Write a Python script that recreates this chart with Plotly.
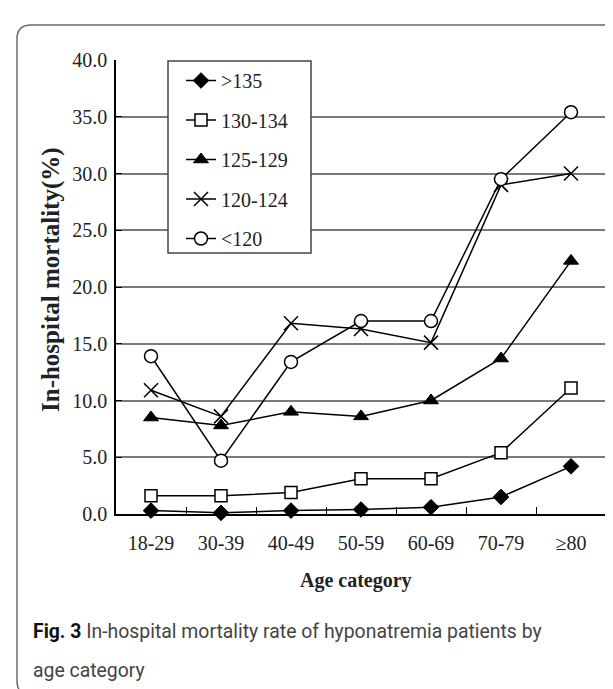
import plotly.graph_objects as go

categories = ["18-29", "30-39", "40-49", "50-59", "60-69", "70-79", "\u226580"]
series_names = [">135", "130-134", "125-129", "120-124", "<120"]
s_gt135 = [0.3, 0.1, 0.3, 0.4, 0.6, 1.5, 4.2]
s_130_134 = [1.6, 1.6, 1.9, 3.1, 3.1, 5.4, 11.1]
s_125_129 = [8.5, 7.8, 9.0, 8.6, 10.0, 13.7, 22.3]
s_120_124 = [10.9, 8.6, 16.8, 16.3, 15.1, 29.0, 30.0]
s_lt120 = [13.9, 4.7, 13.4, 17.0, 17.0, 29.5, 35.4]
y_ticks = [0, 5, 10, 15, 20, 25, 30, 35, 40]
y_ticklabels = ["%.1f" % v for v in y_ticks]

W, H = 613, 689
L, R, T, B = 108, 598, 52, 506

def px(x):
    return (x - L) / (R - L)

def py(y):
    return (B - y) / (B - T)

serif = "Liberation Serif, Times New Roman, serif"

styles = [
    dict(symbol="diamond", size=12, color="black", line=dict(color="black", width=1)),
    dict(symbol="square", size=12, color="white", line=dict(color="black", width=1.5)),
    dict(symbol="triangle-up", size=13, color="black", line=dict(color="black", width=1)),
    dict(symbol="x-thin", size=14, color="black", line=dict(color="black", width=1.5)),
    dict(symbol="circle", size=13, color="white", line=dict(color="black", width=1.5)),
]
data = [s_gt135, s_130_134, s_125_129, s_120_124, s_lt120]

fig = go.Figure()
for i, (name, vals, st) in enumerate(zip(series_names, data, styles)):
    fig.add_trace(go.Scatter(
        x=categories, y=vals, name=name, mode="lines+markers",
        line=dict(color="black", width=1.5),
        marker=st, legendgroup="g%d" % i, cliponaxis=False,
    ))

# rounded frame
r = 14
x0, y0, x1, y1 = 9, 17, 640, 687
path = (f"M {px(x0+r)},{py(y0)} L {px(x1)},{py(y0)} "
        f"M {px(x0+r)},{py(y0)} Q {px(x0)},{py(y0)} {px(x0)},{py(y0+r)} "
        f"L {px(x0)},{py(y1-r)} Q {px(x0)},{py(y1)} {px(x0+r)},{py(y1)} L {px(x1)},{py(y1)}")
fig.add_shape(type="path", path=path, xref="paper", yref="paper",
              line=dict(color="#6a6a6a", width=1.5))

# legend box
fig.add_shape(type="rect", xref="paper", yref="paper",
              x0=px(160), x1=px(303), y0=py(245), y1=py(53),
              line=dict(color="#444", width=1.5), fillcolor="white", layer="above")

fig.add_annotation(text="<b>In-hospital mortality(%)</b>", textangle=-90,
                   x=px(43), y=py(272), xref="paper", yref="paper",
                   xanchor="center", yanchor="middle",
                   showarrow=False, font=dict(family=serif, size=25, color="#222"))
fig.add_annotation(text="<b>Age category</b>", x=px(348), y=py(572),
                   xref="paper", yref="paper", xanchor="center", yanchor="middle",
                   showarrow=False, font=dict(family=serif, size=20, color="#222"))
cap_font = dict(family="Roboto, sans-serif", size=19.4, color="#444")
fig.add_annotation(text="<b><span style='color:#111'>Fig. 3</span></b> In-hospital mortality rate of hyponatremia patients by",
                   x=px(23), y=py(623), xref="paper", yref="paper",
                   xanchor="left", yanchor="middle",
                   showarrow=False, font=cap_font)
fig.add_annotation(text="age category", x=px(23), y=py(662), xref="paper", yref="paper",
                   xanchor="left", yanchor="middle", showarrow=False, font=cap_font)

fig.update_layout(
    width=W, height=H,
    margin=dict(l=L, r=W - R, t=T, b=H - B),
    paper_bgcolor="white", plot_bgcolor="white",
    font=dict(family=serif, size=19, color="#222"),
    showlegend=True,
    legend=dict(x=px(173), y=py(53), xanchor="left", yanchor="top",
                borderwidth=0, bgcolor="rgba(0,0,0,0)",
                font=dict(family=serif, size=20, color="#222"),
                tracegroupgap=10.5, itemwidth=30),
    xaxis=dict(type="category", categoryorder="array", categoryarray=categories,
               range=[-0.5, 6.5], showgrid=False, showline=True, linecolor="black",
               linewidth=1.5, ticks="inside", tickson="boundaries", ticklen=7,
               tickcolor="black", tickfont=dict(family=serif, size=20, color="#222"),
               ticklabelstandoff=10, zeroline=False),
    yaxis=dict(range=[0, 40], tickvals=y_ticks, ticktext=y_ticklabels,
               showgrid=True, gridcolor="#7a7a7a", gridwidth=1.5,
               showline=True, linecolor="black", linewidth=1.5,
               ticks="inside", ticklen=6, tickcolor="black",
               tickfont=dict(family=serif, size=20, color="#222"),
               ticklabelstandoff=3, zeroline=False),
)

fig.write_html("out.html")
